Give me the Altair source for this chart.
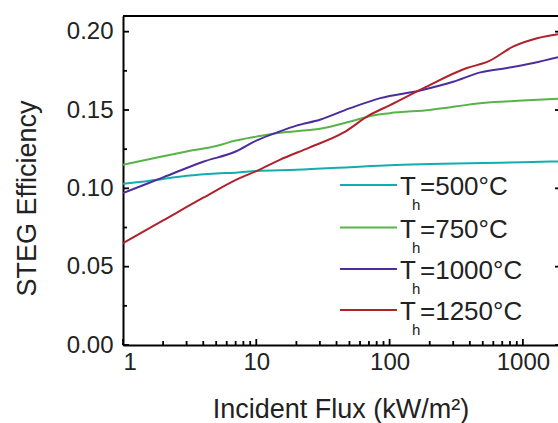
import altair as alt
import pandas as pd

# ---------------- data ----------------
series = ["500", "750", "1000", "1250"]
colors = ["#14adad", "#58b34a", "#4a2e9e", "#b0222b"]

flux_500 = [1, 1.5, 2, 3, 5, 7, 10, 20, 50, 100, 200, 500, 1000, 1870]
eff_500 = [0.103, 0.1045, 0.106, 0.108, 0.1095, 0.110, 0.111, 0.1118, 0.1135,
           0.1148, 0.1155, 0.1162, 0.1166, 0.1172]

flux_750 = [1, 2, 3, 5, 7, 10, 15, 25, 30, 50, 75, 100, 200, 500, 1000, 1870]
eff_750 = [0.115, 0.1205, 0.1235, 0.127, 0.1305, 0.133, 0.1355, 0.1372, 0.138,
           0.1425, 0.1465, 0.148, 0.150, 0.1545, 0.156, 0.1572]

flux_1000 = [1, 2, 4, 7, 10, 15, 20, 30, 50, 85, 170, 300, 480, 760, 1200, 1870]
eff_1000 = [0.097, 0.107, 0.117, 0.1235, 0.1305, 0.1363, 0.140, 0.1438, 0.151,
            0.1576, 0.1625, 0.168, 0.174, 0.1768, 0.180, 0.1838]

flux_1250 = [1, 2, 4, 7.5, 10, 15, 25, 45, 70, 100, 180, 380, 550, 850, 1300, 1870]
eff_1250 = [0.065, 0.0795, 0.094, 0.1065, 0.111, 0.1182, 0.126, 0.1355, 0.1465,
            0.153, 0.164, 0.1768, 0.181, 0.1906, 0.196, 0.1985]

x_major = [1, 10, 100, 1000]
x_minor = [2, 3, 4, 5, 6, 7, 8, 9, 20, 30, 40, 50, 60, 70, 80, 90,
           200, 300, 400, 500, 600, 700, 800, 900]
y_major = [0.0, 0.05, 0.10, 0.15, 0.20]
y_minor = [0.025, 0.075, 0.125, 0.175]

legend_y = [0.1021, 0.0750, 0.0485, 0.0223]
legend_rest = ["=500°C", "=750°C", "=1000°C", "=1250°C"]

# ---------------- layout ----------------
W, H = 435, 329
XMAX = 1834
FONT = "Liberation Sans"

rows = []
for s, fl, ef in zip(series, [flux_500, flux_750, flux_1000, flux_1250],
                     [eff_500, eff_750, eff_1000, eff_1250]):
    rows += [{"series": s, "flux": f, "eff": e} for f, e in zip(fl, ef)]
df = pd.DataFrame(rows)

xs = alt.Scale(type="log", domain=[1, XMAX], nice=False)
ys = alt.Scale(domain=[0, 0.21], nice=False)
cs = alt.Scale(domain=series, range=colors)

x_axis = alt.Axis(values=x_major, format="d", title="Incident Flux (kW/m²)",
                  ticks=False, tickSize=0, grid=False, labelPadding=5,
                  domainColor="black", domainWidth=2, labelFontSize=24,
                  labelFont=FONT, labelColor="#222", titleFont=FONT,
                  titleFontSize=27, titleFontWeight="normal", titleColor="#222",
                  titleBaseline="alphabetic", titleY=72)
y_axis = alt.Axis(values=y_major, format=".2f", title="STEG Efficiency",
                  ticks=False, tickSize=0, grid=False, labelPadding=10,
                  domainColor="black", domainWidth=2, labelFontSize=24,
                  labelFont=FONT, labelColor="#222", titleFont=FONT,
                  titleFontSize=27, titleFontWeight="normal", titleColor="#222",
                  titleAngle=270, titleBaseline="alphabetic", titleAlign="center",
                  titleX=-88, titleY=182)

lines = alt.Chart(df).mark_line(strokeWidth=2, clip=True, interpolate="monotone").encode(
    x=alt.X("flux:Q", scale=xs, axis=x_axis),
    y=alt.Y("eff:Q", scale=ys, axis=y_axis),
    color=alt.Color("series:N", scale=cs, legend=None),
)

tick_style = dict(color="black", strokeWidth=1.8)

yt_major = pd.DataFrame({"v": y_major})
yt_minor = pd.DataFrame({"v": y_minor})
xt_major = pd.DataFrame({"v": x_major})
xt_minor = pd.DataFrame({"v": x_minor})

left_major = alt.Chart(yt_major).mark_rule(**tick_style).encode(
    y=alt.Y("v:Q", scale=ys), x=alt.value(0), x2=alt.value(6))
left_minor = alt.Chart(yt_minor).mark_rule(**tick_style).encode(
    y=alt.Y("v:Q", scale=ys), x=alt.value(0), x2=alt.value(4))
right_major = alt.Chart(yt_major).mark_rule(**tick_style).encode(
    y=alt.Y("v:Q", scale=ys), x=alt.value(W - 3), x2=alt.value(W))
bottom_major = alt.Chart(xt_major).mark_rule(**tick_style).encode(
    x=alt.X("v:Q", scale=xs), y=alt.value(H), y2=alt.value(H - 6))
bottom_minor = alt.Chart(xt_minor).mark_rule(**tick_style).encode(
    x=alt.X("v:Q", scale=xs), y=alt.value(H), y2=alt.value(H - 4))
top_border = alt.Chart(yt_major).mark_rule(color="black", strokeWidth=2).encode(
    x=alt.value(0), x2=alt.value(W), y=alt.value(0))

leg = pd.DataFrame({"series": series, "ly": legend_y, "rest": legend_rest})
leg_lines = alt.Chart(leg).mark_rule(strokeWidth=2).encode(
    x=alt.value(217), x2=alt.value(274), y=alt.Y("ly:Q", scale=ys),
    color=alt.Color("series:N", scale=cs, legend=None))
leg_T = alt.Chart(leg).mark_text(text="T", font=FONT, fontSize=26, align="left",
                                 baseline="alphabetic", dy=10, color="#222").encode(
    x=alt.value(277), y=alt.Y("ly:Q", scale=ys))
leg_h = alt.Chart(leg).mark_text(text="h", font=FONT, fontSize=15, align="left",
                                 baseline="alphabetic", dy=25, color="#222").encode(
    x=alt.value(289), y=alt.Y("ly:Q", scale=ys))
leg_rest = alt.Chart(leg).mark_text(font=FONT, fontSize=26, align="left",
                                    baseline="alphabetic", dy=10, color="#222").encode(
    x=alt.value(297), y=alt.Y("ly:Q", scale=ys), text="rest:N")

chart = alt.layer(
    lines, left_major, left_minor, right_major, bottom_major, bottom_minor,
    top_border, leg_lines, leg_T, leg_h, leg_rest
).properties(
    width=W, height=H,
    autosize=alt.AutoSizeParams(type="none"),
    padding={"left": 123, "top": 16, "right": 0, "bottom": 78},
).configure_view(stroke=None)

chart.save("out.html", embed_options={"renderer": "svg", "actions": False})
